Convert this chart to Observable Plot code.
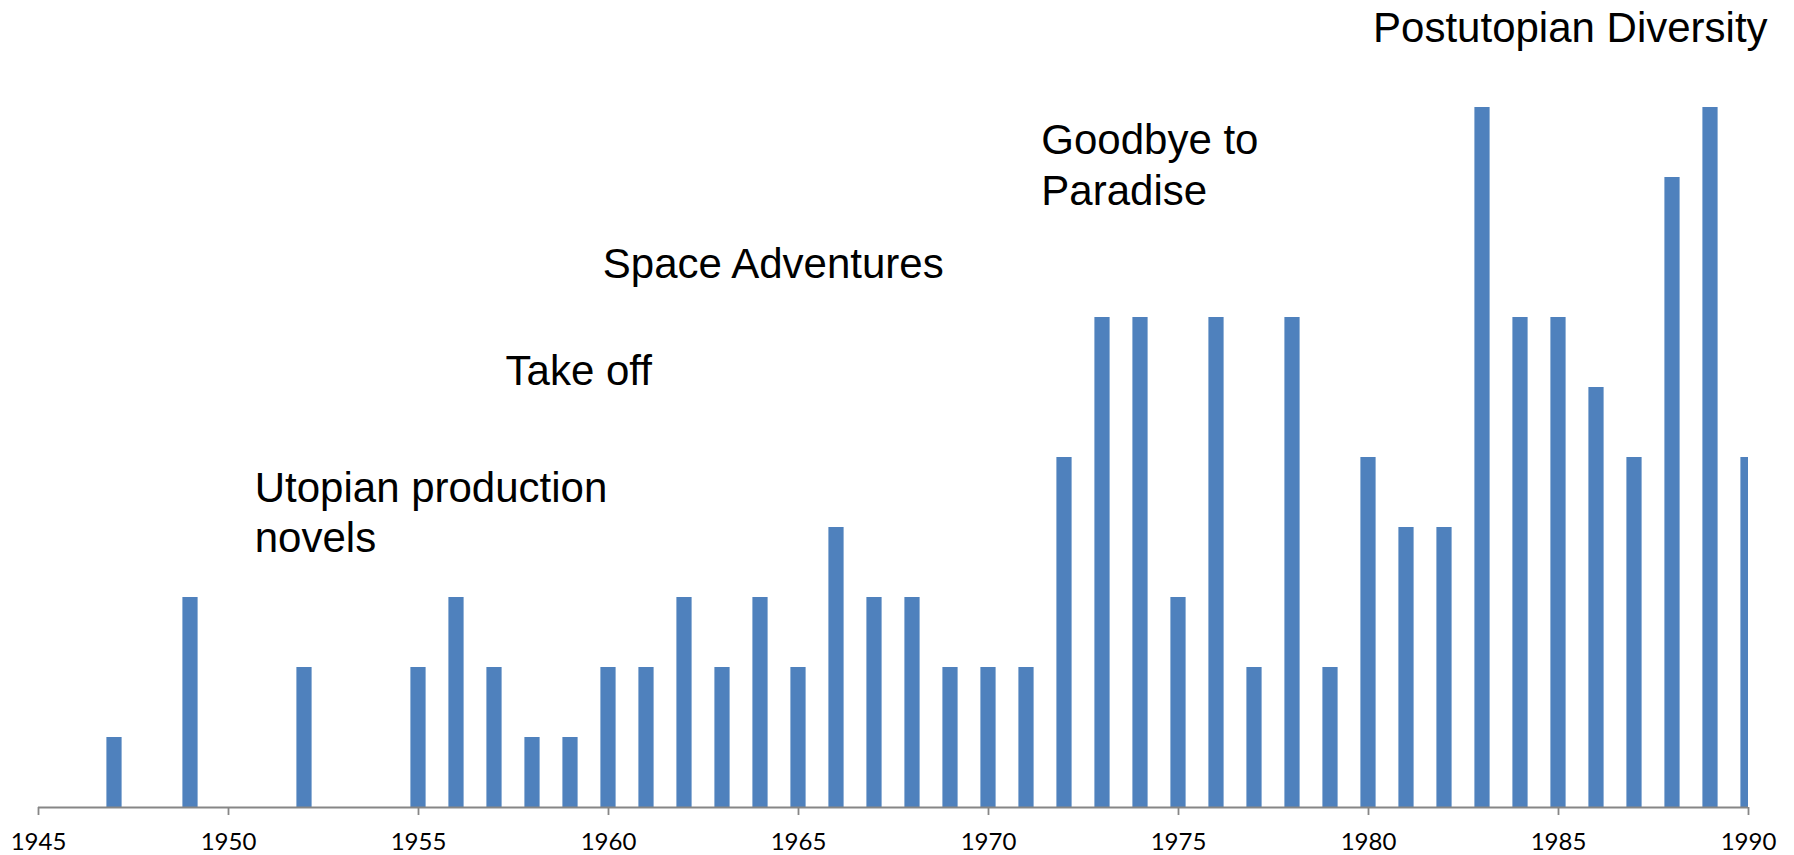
<!DOCTYPE html>
<html>
<head>
<meta charset="utf-8">
<script src="https://cdn.jsdelivr.net/npm/d3@7"></script>
<script src="https://cdn.jsdelivr.net/npm/@observablehq/plot@0.6"></script>
<style>
  html, body { margin: 0; padding: 0; background: #ffffff; }
  #chart svg { display: block; }
  #chart g[aria-label="text"], #chart g[aria-label="text"] text {
    font-family: "Liberation Sans", Arial, Helvetica, sans-serif !important;
  }
  #chart g[aria-label="x-axis tick label"], #chart g[aria-label="x-axis tick label"] text {
    font-family: Lato, "Open Sans", sans-serif !important;
  }
</style>
</head>
<body>
<div id="chart"></div>
<script>
// Years with at least one novel and their counts
const years  = [1947, 1949, 1952, 1955, 1956, 1957, 1958, 1959, 1960, 1961, 1962, 1963, 1964, 1965, 1966, 1967, 1968, 1969, 1970, 1971, 1972, 1973, 1974, 1975, 1976, 1977, 1978, 1979, 1980, 1981, 1982, 1983, 1984, 1985, 1986, 1987, 1988, 1989, 1990];
const counts = [1,    3,    2,    2,    3,    2,    1,    1,    2,    2,    3,    2,    3,    2,    4,    3,    3,    2,    2,    2,    5,    7,    7,    3,    7,    2,    7,    2,    5,    4,    4,    10,   7,    7,    6,    5,    9,    10,   5];

// Tick labels on the x axis
const tickYears = [1945, 1950, 1955, 1960, 1965, 1970, 1975, 1980, 1985, 1990];

// Period annotations (text and anchor in data coordinates: year, count)
const periodLabels = ["Utopian production\nnovels", "Take off", "Space Adventures", "Goodbye to\nParadise", "Postutopian Diversity"];
const periodYears  = [1950.69, 1957.29, 1959.85, 1971.39, 1980.12];
const periodLevels = [4.88, 6.55, 8.08, 9.84, 11.44];

const bars = years.map((y, i) => ({year: y, count: counts[i]}));
const notes = periodLabels.map((t, i) => ({text: t, year: periodYears[i], level: periodLevels[i]}));

const chart = Plot.plot({
  width: 1794,
  height: 855,
  marginLeft: 38,
  marginRight: 46,
  marginTop: 107,
  marginBottom: 48,
  style: {background: "#ffffff", overflow: "visible"},
  x: {domain: [1945, 1990]},
  y: {domain: [0, 10], axis: null},
  marks: [
    Plot.rectY(bars, {
      x1: d => d.year - 0.2,
      x2: d => d.year + 0.2,
      y1: 0,
      y2: "count",
      fill: "#4F81BD",
      clip: true
    }),
    Plot.ruleY([0], {stroke: "#868686", strokeWidth: 1.8}),
    Plot.axisX({
      ticks: tickYears,
      tickFormat: d => String(d),
      tickSize: 8,
      tickPadding: 17,
      stroke: "#868686",
      strokeWidth: 1.8,
      strokeOpacity: 1,
      fill: "#000000",
      fontSize: 24,
      label: null
    }),
    Plot.text(notes, {
      x: "year",
      y: "level",
      text: "text",
      textAnchor: "start",
      lineAnchor: "top",
      lineHeight: 1.2,
      fontSize: 42,
      fill: "#000000"
    })
  ]
});

document.getElementById("chart").appendChild(chart);
</script>
</body>
</html>
